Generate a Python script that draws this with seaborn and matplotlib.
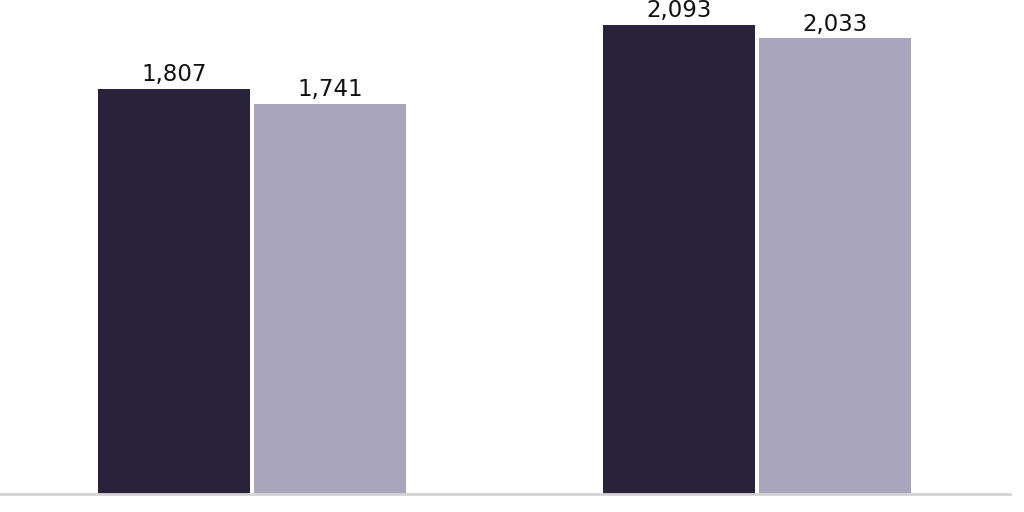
import matplotlib
matplotlib.use("Agg")
import matplotlib.pyplot as plt
import seaborn as sns
import pandas as pd

categories = ["A", "B"]
series = ["S1", "S2"]
values_s1 = [1807, 2093]
values_s2 = [1741, 2033]
colors = ["#28233b", "#a9a5bd"]

df = pd.DataFrame({
    "cat": categories * 2,
    "series": [series[0]] * 2 + [series[1]] * 2,
    "value": values_s1 + values_s2,
})

sns.set_theme(style="white")
plt.rcParams["font.family"] = ["DejaVu Sans"]

fig = plt.figure(figsize=(10.24, 5.12), dpi=100)
ax = fig.add_axes([-0.5 / 1024, 18 / 512, 1010 / 1024, 494 / 512])
sns.barplot(data=df, x="cat", y="value", hue="series", palette=colors,
            saturation=1, width=0.62, gap=0.03, ax=ax, legend=False, linewidth=0)
ax.set_xlim(-0.5, 1.5)
ax.set_ylim(0, 2093 * 494 / 469)
for c in ax.containers:
    ax.bar_label(c, labels=[f"{v:,.0f}" for v in c.datavalues], padding=2,
                 fontsize=16.5, color="#111111")
for s in ["top", "right", "left"]:
    ax.spines[s].set_visible(False)
ax.spines["bottom"].set_color("#d4d4d4")
ax.spines["bottom"].set_linewidth(2)
ax.set_xticks([])
ax.set_yticks([])
ax.set_xlabel("")
ax.set_ylabel("")
fig.savefig("out.png", dpi=100)
